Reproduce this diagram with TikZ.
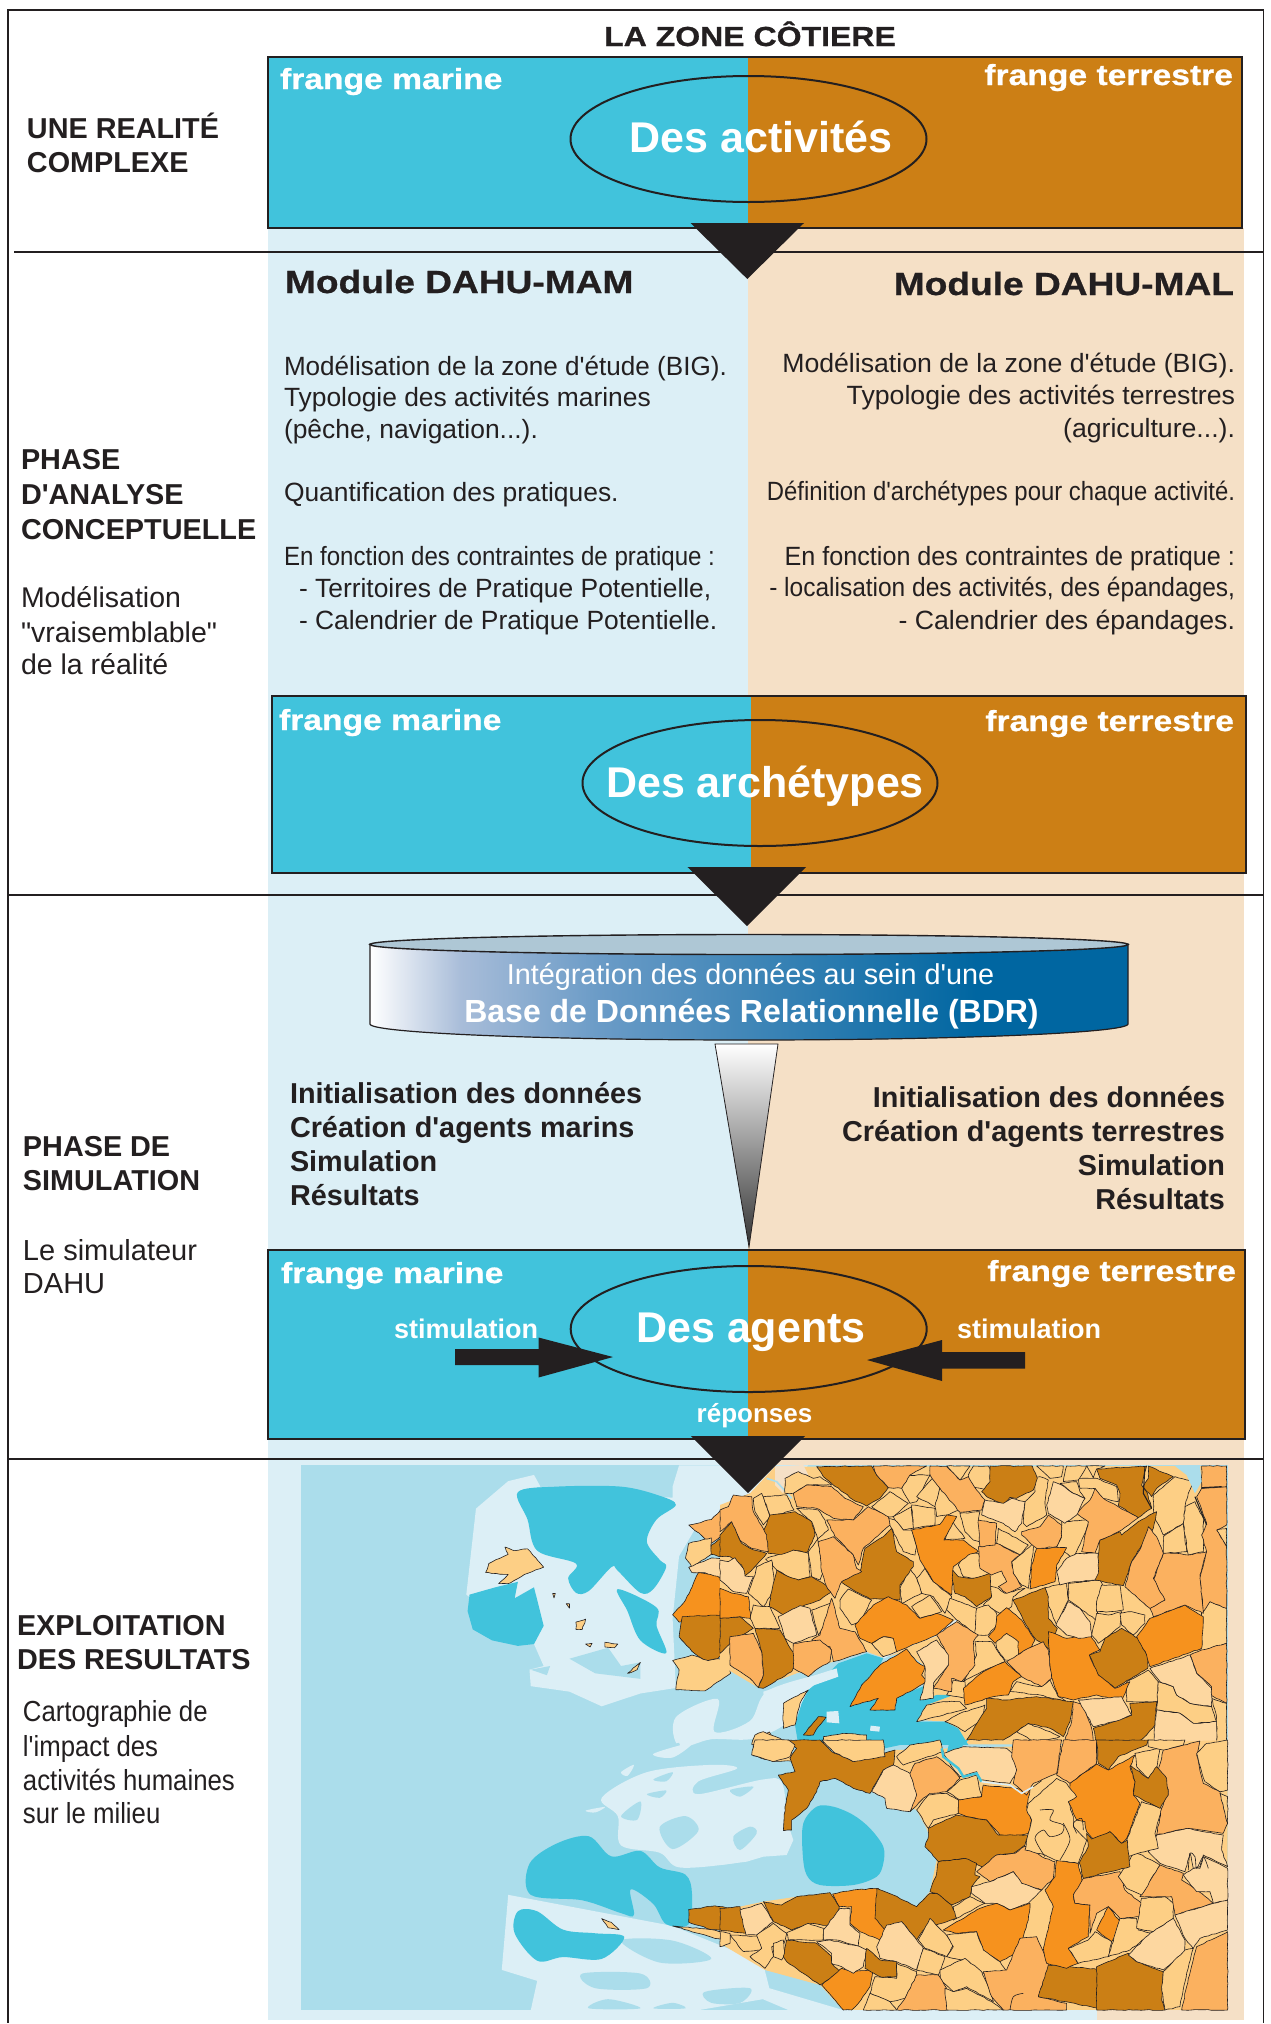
\documentclass[tikz,border=0pt]{standalone}
\usepackage{fontspec}
\usetikzlibrary{decorations.pathmorphing}
\newfontfamily\plainf{Liberation Sans}
\newfontfamily\blk[UprightFont=* Bold,FakeStretch=1.16,FakeBold=0.8]{Liberation Sans}
\newcommand{\fs}[1]{\fontsize{#1}{#1}\selectfont}
\definecolor{sea}{HTML}{ABDDEB}
\definecolor{pan}{HTML}{DCEFF6}
\definecolor{tanp}{HTML}{F5E0C6}
\definecolor{dsea}{HTML}{41C3DC}
\definecolor{dbrown}{HTML}{CC7F15}
\definecolor{ink}{HTML}{231F20}
\definecolor{cY}{HTML}{FDCF85}
\definecolor{cL}{HTML}{FBB15F}
\definecolor{cO}{HTML}{F6921E}
\definecolor{cB}{HTML}{CB7F15}
\definecolor{cP}{HTML}{FDD7A0}
\definecolor{topc}{HTML}{AEC7D5}
\pgfdeclarehorizontalshading{bdrshade}{100bp}{rgb(0bp)=(1,1,1);rgb(25bp)=(1,1,1);rgb(31bp)=(0.66,0.74,0.85);rgb(40bp)=(0.42,0.61,0.78);rgb(65bp)=(0,0.4,0.63);rgb(100bp)=(0,0.4,0.63)}
\pgfdeclareverticalshading{funshade}{100bp}{rgb(0bp)=(0.2,0.2,0.2);rgb(25bp)=(0.2,0.2,0.2);rgb(75bp)=(1,1,1);rgb(100bp)=(1,1,1)}
\tikzset{
 txt/.style={inner sep=0pt,outer sep=0pt,text=ink,font=\plainf\fs{26.4}},
 hd/.style={txt,font=\plainf\fs{28.8}\bfseries},
 wh/.style={inner sep=0pt,outer sep=0pt,text=white},
 fr/.style={wh,font=\blk\fs{29}},
 big/.style={wh,font=\plainf\fs{43}\bfseries},
 mod/.style={txt,font=\blk\fs{32}},
 sep/.style={ink,line width=1.1pt},
 box/.style={ink,line width=2.4pt},
 ovl/.style={ink,line width=2pt},
 arr/.style={fill=ink,draw=none},
 comm/.style={draw=ink,line width=0.6pt,line join=round,decorate,decoration={random steps,segment length=4pt,amplitude=0.45pt}},
 cline/.style={draw=ink,line width=0.6pt,line join=round},
}
\newcommand{\cm}[2]{\draw[comm,fill=#1] plot coordinates {#2} -- cycle;}
\newcommand{\cl}[1]{\draw[cline] plot[smooth] coordinates {#1};}
\newcommand{\bs}[2]{\fill[#1] plot coordinates {#2} -- cycle;}
\newcommand{\smf}[2]{\fill[#1] plot[smooth cycle,tension=0.55] coordinates {#2};}
\begin{document}
\begin{tikzpicture}[x=1pt,y=-1pt]
\pgfmathsetseed{7}
\useasboundingbox (0,0) rectangle (1271,2024);
\fill[white] (0,0) rectangle (1271,2024);
% panels
\fill[pan] (268,228) rectangle (748,2020);
\fill[tanp] (748,228) rectangle (1244,2020);
\fill[pan] (748,2010) rectangle (1097,2020);
% ---- map, sea and western coast
\begin{scope}[shift={(260,1450)},x=0.6447pt,y=-0.3661pt]
\fill[sea] (63,42) rectangle (1501,1530);
\fill[pan] (335,160)--(385,85)--(425,68)--(435,100)--(400,115)--(640,130)--(640,100)--(650,42)--(850,42)--(800,150)--(680,200)--(650,290)--(640,460)--(645,650)--(590,665)--(530,700)--(480,660)--(420,645)--(418,600)--(440,590)--(425,530)--(320,395)--cycle;
\fill[sea] (420,600)--(450,590)--(445,615)--cycle;
\fill[sea] (480,570)--(540,540)--(560,590)--(590,580)--(590,625)--(520,610)--cycle;
\smf{pan}{(645,730) (710,680) (705,770) (760,740) (790,655) (895,610) (830,720) (805,760) (760,790) (700,790) (650,810)}
\smf{pan}{(530,950) (600,880) (700,860) (740,870) (680,905) (680,940) (780,900) (810,910) (815,1020) (800,1080) (770,1110) (730,1130) (650,1140) (620,1100) (560,1080) (555,1000)}
\smf{sea}{(620,1030) (660,1000) (680,1040) (640,1090)}
\smf{sea}{(720,1040) (760,1000) (770,1040) (740,1100)}
\smf{sea}{(610,830) (650,800) (640,835)}
\smf{sea}{(600,940) (630,930) (620,950)}
\smf{sea}{(610,900) (640,880) (630,905)}
\smf{sea}{(560,1000) (590,960) (585,1010)}
\smf{pan}{(560,880) (580,860) (570,890)}
\smf{pan}{(610,830) (670,800) (640,840)}
\smf{pan}{(505,985) (535,975) (520,990)}
\fill[pan] (385,1215)--(640,1300)--(780,1400)--(790,1470)--(905,1530)--(820,1530)--(780,1500)--(680,1530)--(420,1530)--(430,1450)--(375,1420)--cycle;
\smf{sea}{(500,1430) (590,1430) (600,1470) (520,1470)}
\smf{sea}{(510,1525) (540,1500) (590,1525)}
\smf{sea}{(610,1525) (640,1510) (660,1525)}
\smf{sea}{(690,1480) (760,1470) (745,1510) (700,1510)}
\smf{sea}{(560,1340) (640,1340) (700,1390) (620,1400)}
% dark sea
\smf{dsea}{(400,115) (460,100) (560,100) (620,125) (645,150) (615,190) (600,250) (620,300) (630,320) (610,380) (590,390) (555,330) (545,320) (510,385) (490,390) (478,350) (490,310) (430,275) (415,190)}
\smf{dsea}{(555,380) (615,430) (615,480) (630,555) (590,520) (570,440)}
\fill[dsea] (325,395)--(365,375)--(400,360)--(395,405)--(425,375)--(440,480)--(425,530)--(400,535)--(360,520)--(330,490)--(322,440)--cycle;
\smf{dsea}{(418,1130) (460,1075) (510,1055) (545,1110) (590,1095) (620,1140) (660,1160) (670,1210) (665,1295) (630,1295) (610,1240) (575,1200) (580,1270) (560,1265) (500,1230) (420,1215)}
\smf{dsea}{(400,1260) (430,1260) (470,1310) (520,1320) (565,1330) (530,1390) (470,1385) (430,1395) (395,1320)}
% islands
\cm{cY}{(380,265) (395,275) (415,270) (430,300) (440,320) (410,340) (385,365) (370,365) (385,340) (350,335) (355,310) (385,285)}
\cm{cY}{(490,470) (505,462) (500,490) (490,490)}
\cm{cY}{(570,610) (590,580) (585,600)}
\cm{cY}{(535,525) (555,530) (550,540) (535,538)}
\cm{cY}{(505,530) (515,528) (512,538)}
\cm{cY}{(530,1280) (545,1290) (557,1310) (540,1305)}
\cm{cY}{(454,392) (458,392) (456,404)}
\cm{cY}{(475,420) (480,420) (480,432)}
% western communes
\cm{cL}{(665,205) (700,190) (725,145) (760,120) (790,200) (760,240) (730,195) (715,235) (700,255)}
\cm{cY}{(665,255) (700,240) (700,285) (670,320) (660,295)}
\cm{cB}{(730,195) (750,240) (780,280) (785,310) (750,340) (735,300) (700,285) (700,260) (720,235)}
\cm{cP}{(665,320) (700,295) (745,300) (760,340) (755,385) (720,370) (690,335) (670,335)}
\cm{cO}{(680,335) (710,345) (760,410) (760,450) (720,455) (650,470) (640,450) (660,410) (670,375)}
\cm{cB}{(655,455) (720,450) (765,465) (765,510) (735,520) (710,570) (690,575) (670,550) (650,510)}
\cm{cY}{(640,575) (670,560) (695,575) (710,570) (725,575) (730,610) (690,658) (645,655) (650,600)}
\cm{cL}{(730,510) (770,510) (775,640) (745,610) (725,570)}
\cm{cB}{(665,1255) (705,1245) (745,1255) (755,1320) (700,1310) (665,1290)}
\cm{cY}{(640,1300) (700,1310) (730,1320) (730,1345)}
\cm{cY}{(730,1320) (780,1330) (775,1370) (730,1345)}
\cm{cY}{(765,790) (790,770) (800,795) (825,810) (825,850) (795,850) (765,835)}
\end{scope}
% ---- map, north crop (1 unit = 1/3 px)
\begin{scope}[shift={(720,1465)},x=0.3333pt,y=-0.3333pt]
\bs{cY}{(90,85) (165,5) (1520,3) (1520,838) (745,838) (680,770) (600,765) (620,715) (640,700) (600,640) (610,600) (560,560) (490,578) (440,560) (340,590) (230,625) (115,668) (0,600) (0,120)}
\bs{dsea}{(355,595) (440,565) (490,580) (480,600) (425,660) (390,725) (475,700) (450,735) (525,735) (530,700) (570,680) (620,660) (620,700) (650,690) (700,690) (620,720) (590,770) (675,770) (715,790) (745,840) (235,840) (225,780) (245,715) (265,675) (325,625)}
\bs{pan}{(130,680) (350,610) (355,635) (270,665) (190,715) (185,760) (135,740)}
\bs{pan}{(320,740) (355,738) (358,775) (320,772)}
\bs{pan}{(452,782) (480,785) (478,800) (450,797)}
\bs{tanp}{(165,5) (250,0) (265,30) (195,40) (190,85) (165,60)}
\draw[pan,line width=1.8pt] plot coordinates {(490,578) (560,545) (650,510) (710,465)};
\draw[sea,line width=1.6pt] plot coordinates {(140,40) (170,50) (215,100)};
% yellow
\cm{cY}{(100,100) (125,85) (150,155) (130,180) (105,140)}
\cm{cY}{(130,95) (200,90) (222,135) (150,155)}
\cm{cY}{(195,40) (235,20) (280,40) (300,35) (335,60) (260,60) (220,85) (195,85)}
\cm{cY}{(230,130) (295,135) (315,165) (325,195) (295,220) (265,260) (275,335) (300,345) (310,320) (295,235) (290,210) (275,170)}
\cm{cY}{(140,280) (210,255) (220,255) (265,265) (270,335) (235,345) (205,335) (170,315) (140,285)}
\cm{cY}{(110,305) (155,285) (165,360) (150,395) (130,425) (85,385) (105,330)}
\cm{cY}{(100,420) (130,425) (150,425) (180,490) (105,490) (90,460)}
\cm{cY}{(275,435) (330,415) (335,440) (295,510)}
\cm{cY}{(360,405) (385,372) (455,405) (420,470) (395,480) (360,430)}
\cm{cY}{(455,535) (490,515) (525,520) (530,560) (490,575)}
\cm{cY}{(455,125) (510,80) (565,115) (520,155) (500,155)}
\cm{cY}{(560,30) (630,30) (590,110) (570,115) (545,70)}
\cm{cY}{(590,95) (640,35) (660,70) (645,125)}
\cm{cY}{(645,125) (660,65) (720,135) (680,150) (650,155)}
\cm{cY}{(575,120) (645,130) (645,180) (580,190)}
\cm{cY}{(520,155) (575,125) (580,190) (550,195) (525,165)}
\cm{cY}{(500,160) (525,165) (550,195) (575,195) (590,245) (585,270) (550,260) (515,190)}
\cm{cY}{(720,145) (780,140) (775,165) (810,240) (760,225) (735,200)}
\cm{cY}{(690,160) (735,220) (675,225)}
\cm{cY}{(680,3) (750,3) (720,45)}
\cm{cY}{(760,3) (805,3) (825,40) (800,75) (750,65) (745,30)}
\cm{cY}{(940,40) (960,35) (985,45) (975,110) (980,150) (920,185) (910,175) (915,110) (945,80)}
\cm{cY}{(835,190) (925,240) (900,270) (830,235)}
\cm{cY}{(945,230) (940,250) (925,370) (905,360) (880,325) (875,290) (900,270)}
\cm{cY}{(1025,170) (1110,165) (1090,215) (1060,280) (1010,245) (1025,215)}
\cm{cY}{(715,300) (740,265) (775,265) (790,310) (815,325) (765,340) (730,335)}
\cm{cY}{(800,360) (835,370) (855,385) (915,370) (880,395) (875,425) (840,445) (815,430) (790,420) (815,395)}
\cm{cY}{(590,340) (615,310) (640,350) (695,395) (675,445) (640,395) (605,385)}
\cm{cY}{(540,370) (570,310) (590,340) (605,385) (545,415)}
\cm{cY}{(575,425) (630,390) (665,440) (600,460)}
\cm{cY}{(690,400) (770,430) (780,470) (765,505) (710,465) (680,435)}
\cm{cY}{(770,430) (805,420) (830,445) (830,480) (805,510) (765,510)}
\cm{cY}{(825,520) (860,505) (895,525) (895,585) (855,585) (830,550)}
\cm{cY}{(765,530) (815,530) (855,590) (795,615) (730,650) (770,570)}
\cm{cY}{(1010,360) (1040,355) (1045,405) (1010,480) (975,395) (975,368)}
\cm{cY}{(1045,355) (1140,345) (1155,375) (1130,410) (1135,470) (1080,430) (1045,405)}
\cm{cY}{(1145,360) (1200,360) (1210,435) (1170,440) (1130,440) (1130,410)}
\cm{cY}{(1130,445) (1165,450) (1205,440) (1200,485) (1155,520) (1135,535) (1115,510)}
\cm{cY}{(1200,445) (1235,440) (1275,450) (1275,475) (1240,510) (1205,480)}
\cm{cY}{(1330,215) (1390,175) (1400,260) (1330,265)}
\cm{cY}{(1395,125) (1425,110) (1450,160) (1450,260) (1405,270) (1390,175)}
\cm{cY}{(1300,90) (1365,35) (1420,50) (1405,85) (1395,125) (1390,175) (1330,210) (1300,150)}
\cm{cY}{(1075,40) (1130,40) (1190,65) (1195,110) (1145,100) (1125,70) (1080,70)}
\cm{cY}{(1020,55) (1070,50) (1080,80) (1095,100) (1060,85)}
\cm{cY}{(1040,3) (1100,3) (1075,45) (1030,50)}
\cm{cY}{(950,3) (1030,3) (1025,35) (990,40)}
\cm{cY}{(1100,3) (1155,3) (1130,12) (1120,38)}
\cm{cY}{(1220,650) (1285,615) (1315,650) (1315,710) (1220,710)}
\cm{cY}{(1315,650) (1360,665) (1370,690) (1410,715) (1475,725) (1490,770) (1420,775) (1380,745) (1310,735)}
\cm{cY}{(870,680) (890,650) (960,665) (990,645) (1015,695) (1040,710) (960,690)}
\cm{cY}{(700,645) (735,650) (735,700) (680,690)}
\cm{cY}{(620,720) (670,710) (720,710) (740,730) (650,755) (590,770)}
\cm{cY}{(675,770) (720,745) (795,720) (790,760) (735,800) (700,780)}
\cm{cY}{(1490,195) (1520,190) (1520,245)}
\cm{cY}{(1445,440) (1470,410) (1520,430) (1520,535) (1445,565) (1435,520)}
\cm{cY}{(1475,700) (1520,715) (1520,838) (1490,838) (1490,755)}
\cm{cY}{(890,800) (920,775) (990,800) (1020,815) (950,835)}
\cm{cY}{(310,815) (370,805) (440,810) (440,840) (310,840)}
\cm{cY}{(190,715) (265,675) (240,715) (225,780) (190,790)}
\cm{cY}{(105,810) (130,800) (180,820) (200,838) (95,838)}
% brown
\cm{cB}{(290,5) (455,3) (470,30) (505,68) (480,100) (440,123) (400,105) (375,85) (340,60) (310,35)}
\cm{cB}{(810,3) (937,3) (952,40) (940,75) (890,100) (870,97) (850,118) (800,95) (785,80) (810,50)}
\cm{cB}{(1130,12) (1280,3) (1265,60) (1280,80) (1295,130) (1255,158) (1195,122) (1200,85) (1190,60) (1140,40)}
\cm{cB}{(1285,3) (1360,35) (1310,70) (1295,95) (1270,65) (1285,40)}
\cm{cB}{(1310,140) (1300,190) (1260,250) (1235,290) (1210,362) (1125,345) (1140,225) (1200,200) (1205,210) (1255,170)}
\cm{cB}{(35,170) (65,235) (90,250) (140,265) (100,310) (75,332) (65,300) (30,275) (0,275) (0,210)}
\cm{cB}{(130,200) (150,150) (225,140) (275,170) (285,210) (262,262) (220,255) (185,268) (145,265) (125,220)}
\cm{cB}{(515,190) (530,260) (580,290) (580,305) (540,360) (540,405) (490,402) (450,402) (395,372) (362,350) (420,320) (435,250) (490,215)}
\cm{cB}{(170,315) (205,335) (235,345) (275,335) (340,375) (300,405) (245,425) (190,450) (148,425) (155,380)}
\cm{cB}{(690,305) (715,335) (760,340) (810,325) (815,395) (770,425) (735,395) (705,385)}
\cm{cB}{(880,405) (975,368) (985,395) (985,460) (1012,490) (990,555) (945,520) (910,465)}
\cm{cB}{(0,460) (60,455) (100,490) (40,525) (0,565)}
\cm{cB}{(105,490) (180,495) (200,530) (230,580) (215,620) (130,670) (115,668) (130,630) (125,560)}
\cm{cB}{(1205,490) (1255,520) (1285,580) (1283,610) (1185,670) (1135,630) (1108,570) (1140,560) (1155,520)}
\cm{cB}{(800,700) (860,705) (950,695) (1060,710) (1050,770) (1030,815) (990,790) (925,775) (890,800) (850,825) (740,825) (780,760) (800,730)}
\cm{cB}{(1230,715) (1310,710) (1305,780) (1280,810) (1250,838) (1130,838) (1120,790) (1210,760) (1235,750)}
\cm{cB}{(265,790) (295,755) (318,757) (295,785) (280,810) (250,810)}
% orange
\cm{cO}{(575,195) (660,178) (680,150) (710,155) (672,225) (730,225) (775,260) (745,270) (720,290) (700,305) (695,390) (640,350) (600,285) (590,245)}
\cm{cO}{(950,250) (1040,248) (1010,300) (1005,350) (930,372) (935,300)}
\cm{cO}{(460,420) (505,395) (560,420) (600,460) (650,445) (700,465) (650,510) (590,535) (530,560) (520,520) (490,515) (455,535) (420,520) (405,480)}
\cm{cO}{(0,370) (40,385) (85,395) (92,460) (60,455) (0,460)}
\cm{cO}{(860,428) (905,465) (945,525) (935,545) (895,568) (895,530) (860,505) (825,535) (805,515) (825,490) (830,455)}
\cm{cO}{(985,500) (1040,520) (1110,510) (1140,555) (1108,570) (1135,630) (1185,670) (1230,650) (1205,708) (1130,690) (1060,705) (1015,695) (990,620)}
\cm{cO}{(1395,420) (1450,455) (1445,550) (1290,605) (1280,570) (1250,515) (1290,460)}
\cm{cO}{(560,552) (590,590) (615,605) (605,630) (620,650) (570,680) (530,700) (525,735) (450,735) (475,700) (390,725) (425,660) (480,600)}
\cm{cO}{(855,590) (905,635) (880,650) (865,690) (820,695) (735,720) (730,670) (790,620)}
% light orange
\cm{cL}{(460,3) (620,3) (570,30) (545,70) (505,68) (470,30)}
\cm{cL}{(630,3) (680,5) (720,45) (745,35) (770,75) (795,105) (785,135) (720,142) (660,70) (630,30)}
\cm{cL}{(220,85) (260,60) (335,65) (375,100) (430,125) (400,165) (340,160) (290,130) (230,125)}
\cm{cL}{(445,125) (505,155) (510,180) (430,250) (415,300) (395,265) (345,215) (320,165) (400,165)}
\cm{cL}{(295,230) (340,215) (400,270) (410,310) (425,320) (365,350) (345,400) (320,365) (305,320)}
\cm{cL}{(0,135) (25,125) (40,90) (95,95) (100,140) (140,210) (145,260) (95,250) (60,225) (35,170) (0,200)}
\cm{cL}{(905,200) (960,185) (985,150) (1025,180) (1025,215) (1010,245) (950,250) (905,210)}
\cm{cL}{(1125,70) (1150,100) (1195,125) (1255,158) (1205,195) (1165,215) (1140,225) (1125,265) (1085,260) (1105,170) (1070,145) (1110,105)}
\cm{cL}{(775,245) (830,235) (890,265) (900,270) (875,290) (880,325) (905,365) (860,385) (835,365) (860,350) (845,318) (815,330) (780,310)}
\cm{cL}{(1330,265) (1370,265) (1405,270) (1460,260) (1440,330) (1450,445) (1395,420) (1300,455) (1290,430) (1335,405) (1300,345)}
\cm{cL}{(1285,185) (1310,215) (1330,265) (1300,340) (1335,405) (1290,430) (1215,365) (1235,290) (1262,250)}
\cm{cL}{(1430,95) (1445,70) (1520,65) (1520,180) (1490,195) (1520,245) (1520,430) (1470,410) (1450,440) (1440,340) (1460,260) (1445,210) (1460,175)}
\cm{cL}{(1445,3) (1520,3) (1520,65) (1445,70)}
\cm{cL}{(30,515) (100,505) (125,560) (130,630) (115,668) (90,640) (30,600)}
\cm{cL}{(335,400) (360,490) (405,500) (440,560) (340,590) (330,545) (305,540) (275,525) (300,510)}
\cm{cL}{(220,535) (300,525) (335,555) (330,590) (295,610) (265,635) (220,610)}
\cm{cL}{(650,510) (710,470) (775,510) (760,530) (765,600) (725,650) (695,640) (695,680) (640,670) (685,600) (675,555)}
\cm{cL}{(860,590) (925,550) (970,530) (985,555) (995,640) (965,665) (905,635)}
\cm{cL}{(1060,710) (1090,720) (1115,790) (1120,838) (1030,838) (1055,770)}
\cm{cL}{(1410,570) (1445,555) (1520,535) (1520,715) (1470,690) (1475,665) (1430,625)}
\cm{cL}{(775,165) (830,175) (825,240) (780,245)}
\cm{cL}{(1395,810) (1440,810) (1440,838) (1395,838)}
% pale
\cm{cP}{(785,150) (795,105) (850,115) (875,100) (915,110) (905,175) (885,200) (850,175)}
\cm{cP}{(980,120) (1000,50) (1025,60) (1060,85) (1095,100) (1070,150) (1035,175) (985,145)}
\cm{cP}{(0,285) (25,290) (45,278) (70,310) (75,333) (100,335) (80,385) (40,380) (0,345)}
\cm{cP}{(175,455) (240,422) (270,430) (290,510) (220,535) (195,520)}
\cm{cP}{(1010,320) (1040,280) (1070,265) (1135,265) (1135,325) (1125,345) (1050,352) (1020,360)}
\cm{cP}{(1008,480) (1045,410) (1080,430) (1110,470) (1115,515) (1075,520) (1040,510)}
\cm{cP}{(590,560) (650,525) (685,570) (685,600) (640,655) (640,700) (600,705) (615,650) (615,605)}
\cm{cP}{(1290,610) (1410,570) (1430,625) (1475,670) (1475,725) (1410,715) (1370,690) (1360,665) (1320,650)}
\cm{cP}{(1075,705) (1205,695) (1235,750) (1200,765) (1120,785)}
\cm{cP}{(1310,735) (1380,745) (1420,775) (1490,770) (1490,838) (1300,838) (1305,770)}
% lake and rivers
\fill[sea] plot coordinates {(1365,3) (1440,3) (1445,50) (1425,85) (1400,30)} -- cycle;
\draw[ink,line width=1.1pt] plot coordinates {(1275,5) (1270,85) (1295,130)};
\draw[ink,line width=1.1pt] plot coordinates {(1445,68) (1505,65)};
\draw[ink,line width=1.1pt] plot coordinates {(1425,95) (1460,180)};
\end{scope}
% ---- map, south crop
\begin{scope}[shift={(720,1740)},x=0.3333pt,y=-0.3333pt]
\bs{cY}{(455,155) (495,175) (590,210) (620,265) (650,360) (630,455) (590,500) (520,465) (470,445) (400,450) (338,462) (230,470) (130,485) (60,500) (0,505) (0,610) (135,690) (300,735) (370,810) (1523,810) (1523,0) (525,30) (490,90)}
\bs{pan}{(0,150) (100,130) (150,150) (150,200) (190,210) (220,300) (200,345) (130,350) (80,365) (0,375)}
\smf{sea}{(30,150) (100,140) (60,170)}
\smf{sea}{(40,290) (90,260) (110,280) (60,330)}
\smf{dsea}{(250,250) (290,200) (340,200) (400,225) (450,265) (490,320) (490,370) (470,410) (400,435) (300,435) (260,405) (248,340)}
\bs{dsea}{(445,0) (470,30) (540,15) (600,0)}
\bs{dsea}{(690,0) (745,0) (720,25) (680,40)}
% Crozon
\cm{cB}{(205,0) (300,0) (335,35) (400,65) (525,30) (520,75) (490,90) (450,160) (400,145) (345,115) (300,125) (290,155) (260,205) (215,240) (215,270) (190,272) (195,200) (205,150) (175,105) (225,95) (210,55) (230,25)}
\cm{cY}{(105,0) (205,0) (225,15) (210,50) (160,65) (95,45)}
\cm{cY}{(305,0) (490,0) (495,50) (400,65) (340,35)}
\cm{cY}{(530,50) (570,15) (660,0) (670,35) (610,55) (550,75)}
\cm{cP}{(455,155) (490,90) (520,75) (570,100) (590,150) (590,185) (570,215) (500,205) (495,175)}
\cm{cL}{(585,70) (650,50) (690,80) (720,115) (680,155) (630,160) (605,180) (570,215) (590,165) (570,100)}
\cm{cY}{(590,210) (625,165) (680,160) (715,180) (715,220) (640,240) (625,265)}
\cm{cY}{(680,155) (720,120) (770,105) (785,170) (720,180)}
\cm{cP}{(670,40) (730,20) (860,25) (890,50) (890,100) (870,130) (780,120) (770,95) (720,110) (695,80)}
\cm{cO}{(715,180) (785,170) (790,135) (930,150) (920,200) (935,240) (925,280) (890,290) (840,285) (800,240) (740,230) (715,220)}
\cm{cB}{(625,265) (710,225) (740,230) (800,240) (835,285) (925,285) (915,315) (880,340) (830,345) (795,385) (735,355) (655,365) (635,340) (615,320) (625,290)}
\cm{cB}{(655,365) (735,355) (770,370) (765,405) (780,410) (755,440) (750,470) (695,495) (650,460) (630,455) (650,400)}
\cm{cL}{(770,395) (830,345) (885,340) (915,318) (975,355) (1005,365) (1000,415) (965,450) (905,430) (880,395) (810,425)}
\cm{cP}{(755,440) (810,425) (880,395) (905,430) (965,450) (925,490) (870,510) (830,490) (795,490) (755,460)}
\cm{cY}{(700,500) (750,470) (795,490) (700,540)}
\cm{cB}{(130,485) (185,495) (230,470) (330,458) (358,500) (345,560) (275,550) (215,570) (160,545)}
\cm{cB}{(0,505) (60,500) (78,580) (0,570)}
\cm{cP}{(60,510) (125,490) (160,545) (110,585) (78,585)}
\cm{cO}{(338,462) (400,450) (475,445) (470,510) (500,575) (480,600) (420,575) (390,550) (395,500) (358,500)}
\cm{cB}{(470,445) (520,465) (590,500) (630,460) (650,460) (695,495) (710,535) (665,550) (610,570) (590,600) (545,545) (495,570) (465,535)}
\cm{cO}{(670,570) (780,505) (830,490) (870,510) (930,490) (925,540) (910,590) (890,640) (840,665) (790,630) (770,575) (715,580)}
\cm{cP}{(310,570) (360,505) (390,505) (390,555) (420,580) (415,618) (350,600) (310,600)}
\cm{cY}{(200,578) (265,550) (310,565) (310,600) (205,600)}
\cm{cY}{(0,575) (30,580) (30,610) (0,620)}
\cm{cY}{(30,585) (125,590) (125,630) (70,635)}
\cm{cY}{(110,585) (160,550) (200,580) (190,615) (155,620) (160,650) (135,685) (90,650) (125,625)}
\cm{cY}{(160,610) (190,600) (195,640) (185,660) (160,650)}
\cm{cB}{(190,650) (200,600) (290,610) (335,650) (335,670) (360,695) (300,735) (250,700) (200,665)}
\cm{cO}{(305,735) (365,685) (400,695) (460,690) (450,740) (415,790) (395,810) (370,810)}
\cm{cP}{(290,605) (330,600) (420,620) (440,630) (430,680) (400,700) (365,680) (335,670) (335,640)}
\cm{cB}{(440,625) (480,660) (530,665) (530,710) (485,712) (435,685)}
\cm{cP}{(470,620) (500,555) (545,545) (610,625) (590,690) (530,665) (480,655)}
\cm{cY}{(595,600) (630,535) (675,580) (700,615) (680,650) (615,625)}
\cm{cY}{(610,625) (675,650) (655,705) (590,690)}
\cm{cY}{(680,585) (770,575) (790,630) (840,665) (860,695) (790,700) (730,660) (680,650) (700,620)}
\cm{cY}{(660,690) (735,655) (785,695) (810,750) (820,785) (740,740) (700,755) (660,720)}
\cm{cY}{(530,670) (590,695) (585,720) (555,775) (510,785) (450,760) (465,710) (530,715)}
\cm{cL}{(590,705) (655,705) (680,745) (685,810) (530,810) (555,775)}
\cm{cY}{(675,745) (700,755) (740,745) (815,785) (850,810) (680,810)}
\cm{cY}{(430,810) (450,760) (510,785) (530,810)}
\cm{cL}{(790,695) (860,690) (900,595) (950,590) (970,635) (990,680) (955,770) (1040,790) (1040,810) (850,810) (815,770)}
\cm{cB}{(985,675) (1050,680) (1155,690) (1135,805) (955,770)}
\cm{cB}{(1130,680) (1225,640) (1250,665) (1330,695) (1325,780) (1335,810) (1130,810)}
\cm{cO}{(1010,360) (1075,370) (1088,430) (1060,465) (1065,490) (1110,495) (1105,590) (1045,625) (1075,670) (1040,685) (980,670) (970,625) (1000,500) (975,450) (1005,410)}
\cm{cL}{(1090,415) (1200,395) (1215,450) (1265,490) (1260,530) (1200,535) (1165,500) (1130,520) (1110,580) (1110,495) (1065,490) (1060,465)}
\cm{cO}{(1165,500) (1200,545) (1190,580) (1175,605) (1130,570)}
\cm{cY}{(1125,575) (1175,605) (1165,650) (1075,670) (1045,625) (1105,600)}
\cm{cY}{(1200,535) (1250,535) (1255,570) (1295,580) (1230,630) (1165,650)}
\cm{cY}{(1265,475) (1335,470) (1360,490) (1360,535) (1300,575) (1250,565)}
\cm{cP}{(1225,645) (1290,580) (1360,535) (1395,600) (1395,640) (1330,690) (1250,665)}
\cm{cL}{(1260,470) (1320,375) (1390,400) (1385,420) (1445,460) (1480,490) (1365,525) (1355,470) (1335,470)}
\cm{cY}{(1195,410) (1245,335) (1320,375) (1265,465) (1220,445)}
\cm{cP}{(1285,335) (1310,285) (1400,265) (1510,285) (1505,330) (1523,380) (1450,345) (1440,380) (1420,385) (1410,340) (1395,395) (1320,370)}
\cm{cP}{(1390,405) (1420,385) (1440,385) (1450,350) (1523,385) (1523,480) (1480,490) (1470,455) (1430,455)}
\cm{cP}{(1365,525) (1480,490) (1523,480) (1523,570) (1440,595) (1420,625) (1395,595)}
\cm{cL}{(1430,620) (1523,575) (1523,810) (1385,810) (1400,740)}
\cm{cY}{(1330,695) (1395,630) (1420,625) (1400,700) (1380,800) (1335,810) (1325,740)}
\cm{cY}{(1220,300) (1265,185) (1325,205) (1305,280) (1315,325) (1275,335) (1225,350)}
\cm{cL}{(1330,30) (1440,3) (1430,45) (1450,130) (1500,155) (1523,250) (1510,280) (1400,265) (1310,285) (1325,205) (1345,150) (1315,90)}
\cm{cY}{(1245,40) (1320,25) (1310,85) (1285,115) (1250,80)}
\cm{cB}{(1230,75) (1285,115) (1310,80) (1340,115) (1345,165) (1320,205) (1240,165) (1245,125)}
\cm{cY}{(1430,40) (1460,10) (1523,0) (1523,150) (1500,155) (1455,125) (1445,95)}
\cm{cY}{(1500,160) (1523,170) (1523,250)}
\cm{cB}{(1130,0) (1285,0) (1280,15) (1195,50) (1165,90) (1135,70)}
\cm{cY}{(1285,0) (1395,0) (1390,15) (1330,30) (1285,20)}
\cm{cL}{(880,0) (1025,0) (1010,100) (940,130) (920,165) (880,130) (890,90) (875,50)}
\cm{cL}{(1030,0) (1130,0) (1130,70) (1050,130) (1010,105)}
\cm{cO}{(1050,130) (1130,72) (1165,90) (1245,45) (1230,80) (1245,125) (1240,165) (1260,190) (1240,240) (1220,295) (1205,310) (1170,275) (1145,295) (1120,297) (1100,275) (1095,245) (1070,240) (1045,185) (1050,160)}
\cm{cB}{(1100,280) (1115,297) (1170,275) (1205,310) (1222,300) (1230,380) (1090,415) (1078,368) (1105,320)}
\cm{cY}{(925,190) (1010,115) (1040,130) (1070,170) (1045,185) (1060,230) (1060,260) (1100,300) (1075,370) (1005,360) (975,345) (915,330) (925,280) (935,240) (920,210)}
\cl{(960,210) (1000,210) (990,240) (1030,255) (1025,280) (990,290) (970,270) (945,295) (975,350)}
\cl{(1020,360) (1050,300) (1030,250)}
\cl{(1070,280) (1060,250) (1085,235) (1090,270)}
\cl{(1405,390) (1410,340) (1425,350) (1430,385) (1450,350) (1465,385)}
\cl{(870,810) (880,770) (910,760)}
\draw[dsea,line width=2.4pt] plot coordinates {(665,25) (670,50) (715,85) (730,110) (770,100) (785,125)};
\draw[pan,line width=1.6pt] plot coordinates {(785,125) (870,135) (905,160) (940,140)};
\draw[ink,line width=0.6pt] plot coordinates {(940,140) (965,122)};
\end{scope}
% separators and frame
\draw[sep] (14,252)--(1263,252);
\draw[sep] (8,895)--(1263,895);
\draw[sep] (8,1459)--(1263,1459);
\draw[ink,line width=1.2pt] (8,11)--(8,2023);
\draw[ink,line width=1.4pt] (1263.5,11)--(1263.5,2023);
\draw[ink,line width=2.6pt] (7.4,10)--(1264.2,10);
% box 1
\fill[dsea] (268,57) rectangle (747.5,228);
\fill[dbrown] (747.5,57) rectangle (1242,228);
\draw[box] (268,57) rectangle (1242,228);
\draw[ovl] (748.5,139) ellipse [x radius=178,y radius=63];
% box 2
\fill[dsea] (272,696) rectangle (751,873);
\fill[dbrown] (751,696) rectangle (1246,873);
\draw[box] (272,696) rectangle (1246,873);
\draw[ovl] (760,783) ellipse [x radius=177.5,y radius=63];
% box 3
\fill[dsea] (268,1250) rectangle (748,1439);
\fill[dbrown] (748,1250) rectangle (1245,1439);
\draw[box] (268,1250) rectangle (1245,1439);
\draw[ovl] (748.7,1329) ellipse [x radius=178,y radius=63];
% cylinder
\path[draw=ink,line width=1.2pt,shading=bdrshade] (370,944)--(370,1024) arc[start angle=180,end angle=0,x radius=379,y radius=16]--(1128,944)--cycle;
\draw[ink,line width=1.4pt,fill=topc] (749,944.5) ellipse [x radius=379,y radius=10];
% funnel
\path[draw=ink,line width=0.8pt,shading=funshade] (715,1044)--(778,1044)--(749,1247)--cycle;
% triangles
\fill[arr] (690.5,223)--(804,223)--(747.3,279)--cycle;
\fill[arr] (687.5,867)--(806,867)--(747,926)--cycle;
\fill[arr] (691,1436)--(805,1436)--(748,1493)--cycle;
% stimulation arrows
\fill[arr] (455,1349)--(538.5,1349)--(538.5,1337.5)--(613,1357)--(538.5,1377.5)--(538.5,1365)--(455,1365)--cycle;
\fill[arr] (1025,1352)--(942,1352)--(942,1340)--(867,1360)--(942,1381)--(942,1368.5)--(1025,1368.5)--cycle;
% titles
\node[hd,anchor=base,font=\blk\fs{27.6}] (title) at (750,46) {LA ZONE CÔTIERE};
\node[hd,anchor=base west] (r1) at (27,138) {UNE REALITÉ};
\node[hd,anchor=base west] (r2) at (27,172) {COMPLEXE};
% box texts
\node[fr,anchor=base west] (f1a) at (280,89) {frange marine};
\node[fr,anchor=base east] (f1b) at (1233,85) {frange terrestre};
\node[big,anchor=base] (act) at (761,152) {Des activités};
\node[fr,anchor=base west] (f2a) at (279,730) {frange marine};
\node[fr,anchor=base east] (f2b) at (1234,731) {frange terrestre};
\node[big,anchor=base] (arch) at (765,797) {Des archétypes};
\node[fr,anchor=base west] (f3a) at (281,1283) {frange marine};
\node[fr,anchor=base east] (f3b) at (1236,1281) {frange terrestre};
\node[big,anchor=base] (ag) at (751,1342) {Des agents};
\node[wh,font=\plainf\fs{27}\bfseries,anchor=base] (st1) at (466,1338) {stimulation};
\node[wh,font=\plainf\fs{27}\bfseries,anchor=base] (st2) at (1029,1338) {stimulation};
\node[wh,font=\plainf\fs{26}\bfseries,anchor=base] (rep) at (754.5,1422) {réponses};
% modules
\node[mod,anchor=base west] (mam) at (285,293) {Module DAHU-MAM};
\node[mod,anchor=base east] (mal) at (1234,295) {Module DAHU-MAL};
\node[txt,anchor=base west,xscale=.988] (a1) at (284,375) {Modélisation de la zone d'étude (BIG).};
\node[txt,anchor=base west] (a2) at (284,406) {Typologie des activités marines};
\node[txt,anchor=base west] (a3) at (284,438) {(pêche, navigation...).};
\node[txt,anchor=base west] (a4) at (284,501) {Quantification des pratiques.};
\node[txt,anchor=base west,xscale=.912] (a5) at (284,565) {En fonction des contraintes de pratique :};
\node[txt,anchor=base west] (a6) at (299,597) {- Territoires de Pratique Potentielle,};
\node[txt,anchor=base west] (a7) at (299,629) {- Calendrier de Pratique Potentielle.};
\node[txt,anchor=base east,xscale=1.01] (b1) at (1235,372) {Modélisation de la zone d'étude (BIG).};
\node[txt,anchor=base east,xscale=1.01] (b2) at (1235,404) {Typologie des activités terrestres};
\node[txt,anchor=base east,xscale=1.01] (b3) at (1235,437) {(agriculture...).};
\node[txt,anchor=base east,xscale=.905] (b4) at (1235,500) {Définition d'archétypes pour chaque activité.};
\node[txt,anchor=base east,xscale=.953] (b5) at (1235,565) {En fonction des contraintes de pratique :};
\node[txt,anchor=base east,xscale=.928] (b6) at (1235,596) {- localisation des activités, des épandages,};
\node[txt,anchor=base east,xscale=1.01] (b7) at (1235,629) {- Calendrier des épandages.};
% phase analyse
\node[hd,anchor=base west] (p1) at (21,469) {PHASE};
\node[hd,anchor=base west] (p2) at (21,504) {D'ANALYSE};
\node[hd,anchor=base west] (p3) at (21,539) {CONCEPTUELLE};
\node[txt,font=\plainf\fs{28.5},anchor=base west] (p4) at (21,607) {Modélisation};
\node[txt,font=\plainf\fs{28.5},anchor=base west] (p5) at (21,642) {"vraisemblable"};
\node[txt,font=\plainf\fs{28.5},anchor=base west] (p6) at (21,674) {de la réalité};
% BDR
\node[wh,font=\plainf\fs{28.8},anchor=base] (bd1) at (750.5,984) {Intégration des données au sein d'une};
\node[wh,font=\plainf\fs{32}\bfseries,anchor=base] (bd2) at (751.5,1022) {Base de Données Relationnelle (BDR)};
% simulation lists
\node[hd,anchor=base west] (c1) at (290,1103) {Initialisation des données};
\node[hd,anchor=base west] (c2) at (290,1137) {Création d'agents marins};
\node[hd,anchor=base west] (c3) at (290,1171) {Simulation};
\node[hd,anchor=base west] (c4) at (290,1205) {Résultats};
\node[hd,anchor=base east] (d1) at (1225,1107) {Initialisation des données};
\node[hd,anchor=base east] (d2) at (1225,1141) {Création d'agents terrestres};
\node[hd,anchor=base east] (d3) at (1225,1175) {Simulation};
\node[hd,anchor=base east] (d4) at (1225,1209) {Résultats};
% phase simulation
\node[hd,anchor=base west] (s1) at (23,1156) {PHASE DE};
\node[hd,anchor=base west] (s2) at (23,1190) {SIMULATION};
\node[txt,font=\plainf\fs{29},anchor=base west] (s3) at (23,1260) {Le simulateur};
\node[txt,font=\plainf\fs{29},anchor=base west] (s4) at (23,1293) {DAHU};
% exploitation
\node[hd,anchor=base west] (e1) at (17,1635) {EXPLOITATION};
\node[hd,anchor=base west] (e2) at (17,1669) {DES RESULTATS};
\node[txt,font=\plainf\fs{29},xscale=.888,anchor=base west] (e3) at (23,1721) {Cartographie de};
\node[txt,font=\plainf\fs{29},xscale=.888,anchor=base west] (e4) at (23,1756) {l'impact des};
\node[txt,font=\plainf\fs{29},xscale=.888,anchor=base west] (e5) at (23,1790) {activités humaines};
\node[txt,font=\plainf\fs{29},xscale=.888,anchor=base west] (e6) at (23,1823) {sur le milieu};
\end{tikzpicture}
\end{document}
